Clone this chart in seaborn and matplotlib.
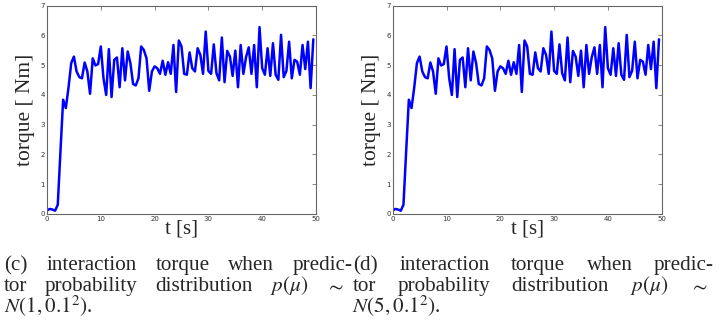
import numpy as np
import pandas as pd
import seaborn as sns
import matplotlib
matplotlib.use("Agg")
import matplotlib.pyplot as plt

# torque samples, one every 0.5 s
time_s = np.arange(0, 50, 0.5)
torque = [0.12, 0.17, 0.15, 0.11, 0.31, 2.10, 3.84, 3.56, 4.25, 5.07,
          5.29, 4.79, 4.60, 4.56, 5.09, 4.79, 4.04, 5.23, 4.99, 5.04,
          5.63, 4.56, 4.00, 5.54, 3.93, 5.18, 5.26, 4.26, 5.57, 4.49,
          5.46, 5.07, 4.37, 4.32, 4.56, 5.63, 5.51, 5.23, 4.14, 4.79,
          4.96, 4.90, 4.71, 5.15, 4.68, 5.10, 4.71, 5.68, 4.10, 5.83,
          5.63, 4.71, 4.68, 5.43, 4.90, 4.79, 5.57, 5.35, 4.71, 6.13,
          4.81, 4.71, 5.70, 4.73, 4.49, 5.93, 4.43, 5.48, 5.29, 4.64,
          5.49, 4.26, 5.68, 4.71, 5.27, 5.60, 4.71, 5.68, 4.26, 6.28,
          4.90, 4.68, 5.57, 4.64, 5.74, 4.68, 4.51, 6.02, 4.60, 4.81,
          5.79, 4.56, 5.18, 5.12, 4.68, 5.68, 4.87, 5.79, 4.23, 5.87]

x_ticks = [0, 10, 20, 30, 40, 50]
y_ticks = [0, 1, 2, 3, 4, 5, 6, 7]

captions = [
    [["(c)", "interaction", "torque", "when", "predic-"],
     ["tor", "probability", "distribution", r"$p(\mu)$", r"$\sim$"],
     [r"$N(1, 0.1^2)$."]],
    [["(d)", "interaction", "torque", "when", "predic-"],
     ["tor", "probability", "distribution", r"$p(\mu)$", r"$\sim$"],
     [r"$N(5, 0.1^2)$."]],
]

df = pd.DataFrame({"t": time_s, "torque": torque})

sns.set_style("white")
plt.rcParams["font.family"] = ["DejaVu Sans"]
plt.rcParams["mathtext.fontset"] = "stix"

W, H = 722, 325
fig = plt.figure(figsize=(W / 100, H / 100), dpi=100)

serif = ["Liberation Serif", "DejaVu Serif"]
ax_lefts = [47, 392.7]
for left in ax_lefts:
    ax = fig.add_axes([left / W, (H - 214) / H, 269 / W, 208.3 / H])
    sns.lineplot(data=df, x="t", y="torque", ax=ax, color="#0000ff", linewidth=1.8)
    ax.set_xlim(0, 50)
    ax.set_ylim(0, 7)
    ax.set_xticks(x_ticks)
    ax.set_yticks(y_ticks)
    ax.tick_params(direction="in", length=3, width=0.5, labelsize=5,
                   labelcolor="#333333", color="#555555", top=True, right=True, pad=1.5)
    for s in ax.spines.values():
        s.set_color("#666666")
        s.set_linewidth(0.8)
    ax.set_xlabel("t [s]", family=serif, fontsize=15, labelpad=-2)
    ax.set_ylabel("torque [ Nm]", family=serif, fontsize=15.5, labelpad=4)

# justified captions drawn word by word
fig.canvas.draw()
renderer = fig.canvas.get_renderer()
line_spans = [
    [(4, 353), (4, 344), None],
    [(353, 714), (353, 708), None],
]
line_starts = [4, 352]
baselines = [270, 291, 313]
for col, cap in enumerate(captions):
    for li, words in enumerate(cap):
        span = line_spans[col][li]
        texts = [fig.text(0, 1 - baselines[li] / H, w, family=serif, fontsize=15.2,
                          va="baseline", ha="left") for w in words]
        widths = [t.get_window_extent(renderer).width for t in texts]
        if span is None:
            texts[0].set_x(line_starts[col] / W)
            continue
        x0, x1 = span
        gap = (x1 - x0 - sum(widths)) / max(len(words) - 1, 1)
        x = x0
        for t, w in zip(texts, widths):
            t.set_x(x / W)
            x += w + gap

fig.savefig("out.png", dpi=100)
